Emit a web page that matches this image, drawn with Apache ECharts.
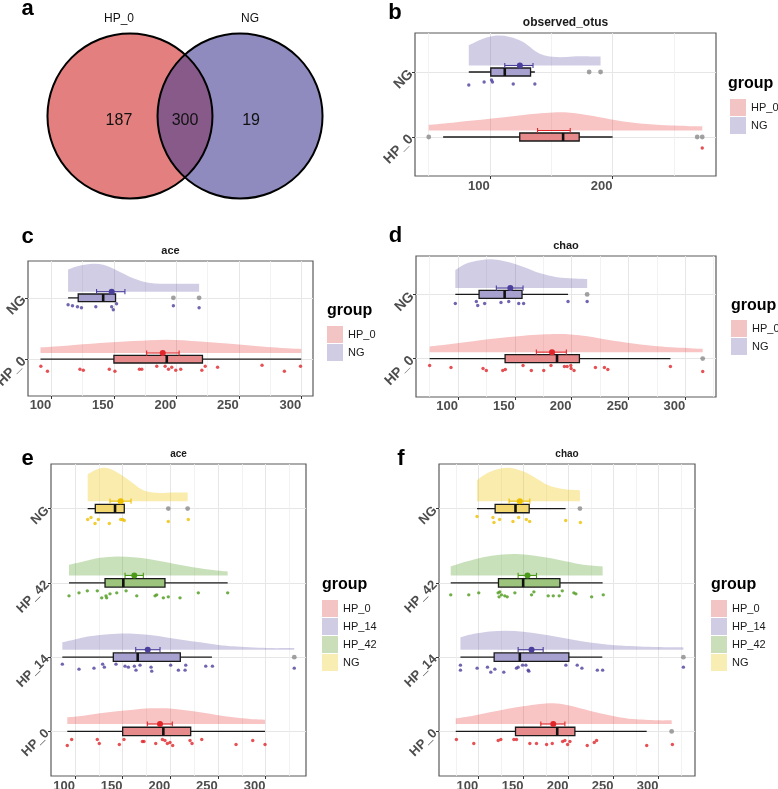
<!DOCTYPE html>
<html><head><meta charset="utf-8">
<script src="https://cdn.jsdelivr.net/npm/echarts@6/dist/echarts.min.js"></script>
<style>html,body{margin:0;padding:0;background:#fff}#c{width:778px;height:789px}</style>
</head><body><div id="c"></div>
<script>
// ---------------- DATA ----------------
// a: Venn
const vennSets = ['HP_0', 'NG'];
const vennCounts = [187, 300, 19]; // HP_0 only, shared, NG only

// b: observed_otus
const bCats = ['HP_0', 'NG'];
const bTicks = [100, 200];
const bMinor = [50, 150, 250];
const bDensity_HP0 = [[50.3,0.087],[72.9,0.128],[100,0.18],[127.2,0.24],[154.3,0.28],[167.9,0.27],[181.5,0.23],[208.7,0.14],[235.9,0.087],[263,0.067],[273,0.067]];
const bDensity_NG = [[82.9,0.31],[94.5,0.41],[105.4,0.46],[116.3,0.44],[127.2,0.36],[140.7,0.18],[154.3,0.13],[167.9,0.14],[181.5,0.14],[190.2,0.14]];
const bBox_HP0 = [62, 124.4, 159.7, 172.8, 200];
const bBox_NG = [82.9, 100.8, 112.2, 133.2, 136.7];
const bMean_HP0 = [null, 138.9, 165.5];
const bMean_NG = [124.5, 112.2, 135.2];
const bOut_HP0 = [50.3, 268.9, 273];
const bOut_NG = [180.9, 190.2];
const bPts_HP0 = [[273,11]];
const bPts_NG = [[82.9,13],[95.4,10],[101.4,8],[102.2,10],[119.1,12],[136.7,12]];

// c: ace
const cCats = ['HP_0', 'NG'];
const cTicks = [100, 150, 200, 250, 300];
const cMinor = [125, 175, 225, 275];
const cDensity_HP0 = [[91.2,0.093],[112,0.12],[138.8,0.163],[165.5,0.196],[192.3,0.218],[219,0.19],[245.7,0.147],[272.5,0.098],[300,0.065]];
const cDensity_NG = [[113.3,0.36],[120,0.41],[130.7,0.45],[141.4,0.44],[152.1,0.35],[165.5,0.22],[178.9,0.14],[192.3,0.13],[205.7,0.13],[218.2,0.13]];
const cBox_HP0 = [91.2, 150, 192.3, 220.9, 300];
const cBox_NG = [113.3, 121.4, 141.4, 151.3, 151.3];
const cMean_HP0 = [189.1, 176.2, 202.2];
const cMean_NG = [148.2, 136.1, 158.8];
const cOut_HP0 = [];
const cOut_NG = [197.6, 218.2];
const cPts_HP0 = [[91.5,7],[96.8,12],[122.8,10],[125.5,11],[146.3,10],[150.8,12],[170.4,10],[172.3,10],[184.3,7],[191,7],[193.7,10],[196.3,8],[199.5,11],[203.5,10],[220.4,11],[223.1,7],[233,8],[268.6,6],[286.5,12],[299.4,7]];
const cPts_NG = [[113.3,7],[116.8,8],[120.8,9],[124,10],[135.5,9],[148.2,9],[149.5,12],[152.1,6],[197.6,8],[218.2,10]];

// d: chao
const dCats = ['HP_0', 'NG'];
const dTicks = [100, 150, 200, 250, 300];
const dMinor = [75, 125, 175, 225, 275, 325];
const dDensity_HP0 = [[75,0.087],[99.1,0.138],[128.4,0.205],[157.7,0.257],[187.1,0.282],[201.8,0.272],[216.5,0.24],[245.8,0.154],[275.2,0.092],[304.5,0.062],[315.3,0.051]];
const dDensity_NG = [[97.6,0.28],[107.9,0.385],[119.6,0.435],[131.3,0.446],[143.1,0.41],[157.7,0.33],[172.4,0.23],[187.1,0.17],[201.8,0.15],[213.6,0.143]];
const dBox_HP0 = [75, 141.4, 187.1, 206.8, 286.9];
const dBox_NG = [97.6, 118.5, 141, 156.3, 196.8];
const dMean_HP0 = [182.7, 168.9, 195.3];
const dMean_NG = [146, 133.7, 157.2];
const dOut_HP0 = [315.3];
const dOut_NG = [213.6];
const dPts_HP0 = [[75,7],[93.8,9],[122,10],[124.9,12],[139.3,12],[141.6,11],[157.2,7],[164.5,12],[175.4,12],[181.8,7],[193.6,8],[196,8],[199.2,7],[199.5,10],[202.1,12],[220.9,9],[228.8,9],[231.8,11],[286.9,8],[315.3,13]];
const dPts_NG = [[97.6,9],[116.1,7],[117.3,11],[123.4,9],[137.8,8],[144.6,7],[153.4,9],[157.7,9],[196.8,7],[213.6,7]];

// e: ace (4 groups)
const eCats = ['HP_0', 'HP_14', 'HP_42', 'NG'];
const eTicks = [100, 150, 200, 250, 300];
const eMinor = [125, 175, 225, 275, 325];
const eDensity_HP0 = [[91.9,0.09],[108.7,0.112],[126.2,0.144],[143.8,0.171],[161.2,0.192],[178.7,0.211],[196.2,0.211],[213.6,0.188],[231.2,0.157],[248.7,0.121],[266.1,0.09],[283.6,0.067],[299.4,0.058]];
const eDensity_HP14 = [[86.7,0.099],[108.7,0.166],[126.2,0.197],[143.8,0.215],[161.2,0.215],[178.7,0.197],[196.2,0.166],[213.6,0.13],[231.2,0.099],[248.7,0.067],[266.1,0.045],[301.1,0.022],[330.1,0.022]];
const eDensity_HP42 = [[93.7,0.144],[108.7,0.188],[126.2,0.238],[143.8,0.256],[161.2,0.246],[178.7,0.219],[196.2,0.179],[213.6,0.135],[231.2,0.098],[248.7,0.067],[260.2,0.054]];
const eDensity_NG = [[113.3,0.363],[122.7,0.426],[131.5,0.448],[140.2,0.417],[150.7,0.336],[161.2,0.238],[171.7,0.148],[185.7,0.112],[203.1,0.117],[218.2,0.117]];
const eBox_HP0 = [91.9, 150, 192.7, 221.4, 299.4];
const eBox_HP14 = [86.7, 140.2, 165.8, 210.5, 243.7];
const eBox_HP42 = [93.7, 131.5, 150.7, 194.4, 260.2];
const eBox_NG = [113.3, 121.3, 142, 151.7, 151.7];
const eMean_HP0 = [189.2, 175.9, 202.1];
const eMean_HP14 = [176.3, 163.7, 189.2];
const eMean_HP42 = [162.2, 152.5, 171.7];
const eMean_NG = [147.9, 136.7, 158.8];
const eOut_HP0 = [];
const eOut_HP14 = [330.1];
const eOut_HP42 = [];
const eOut_NG = [197.9, 218.2];
const ePts_HP0 = [[91.9,14],[96.5,8],[123.4,8],[125.5,12],[146.5,13],[151.4,8],[170.7,10],[172.4,10],[184.7,12],[191.7,8],[194.4,9],[196.9,12],[199.7,11],[202.5,14],[220.7,9],[222.8,12],[233,8],[269,13],[286.5,9],[299.4,13]];
const ePts_HP14 = [[86.7,7],[104.2,12],[119.9,11],[129,7],[130.8,10],[143,7],[152.5,9],[156,10],[162.3,9],[164,13],[168.2,8],[179.8,10],[180.5,14],[200.4,8],[208.5,13],[215.5,13],[216.2,8],[237.2,9],[244.2,9],[330.1,11]];
const ePts_HP42 = [[93.7,13],[104.2,10],[112.9,8],[123.4,8],[128,15],[132.5,13],[133.2,15],[136.7,11],[143.8,10],[153.6,8],[164.8,13],[184,13],[185.7,12],[192.7,15],[197.9,14],[210.2,15],[229.4,10],[260.2,10]];
const ePts_NG = [[113.3,11],[116.8,9],[121,15],[124.5,11],[136,15],[147.9,11],[150,11],[151.7,12],[197.9,13],[218.9,11]];

// f: chao (4 groups)
const fCats = ['HP_0', 'HP_14', 'HP_42', 'NG'];
const fTicks = [100, 150, 200, 250, 300];
const fMinor = [75, 125, 175, 225, 275, 325];
const fDensity_HP0 = [[74.8,0.076],[94,0.112],[112.6,0.157],[131.1,0.202],[149.6,0.238],[168.1,0.269],[183,0.278],[197.8,0.256],[216.3,0.202],[234.8,0.144],[253.3,0.099],[271.9,0.067],[297.8,0.05],[314.4,0.05]];
const fDensity_HP14 = [[80,0.166],[94,0.211],[112.6,0.246],[131.1,0.256],[149.6,0.242],[168.1,0.211],[186.7,0.175],[205.1,0.135],[223.7,0.098],[242.2,0.071],[260.7,0.054],[297.8,0.036],[327.4,0.031]];
const fDensity_HP42 = [[69.2,0.121],[86.7,0.188],[105.2,0.246],[123.7,0.279],[142.2,0.287],[160.7,0.269],[179.2,0.233],[197.8,0.188],[216.3,0.144],[237.8,0.121]];
const fDensity_NG = [[98.4,0.283],[108.9,0.373],[120,0.426],[131.1,0.448],[142.2,0.431],[153.3,0.381],[164.4,0.305],[175.6,0.225],[186.7,0.179],[197.8,0.157],[212.6,0.148]];
const fBox_HP0 = [74.8, 141.1, 187.4, 207, 286.7];
const fBox_HP14 = [80, 117.4, 145.9, 200.3, 237.4];
const fBox_HP42 = [69.2, 122.2, 149.6, 190.4, 237.8];
const fBox_NG = [98.4, 118.5, 141.1, 156.3, 196.7];
const fMean_HP0 = [183, 169.2, 195.9];
const fMean_HP14 = [158.9, 144, 171.8];
const fMean_HP42 = [154.4, 144, 164.4];
const fMean_NG = [145.9, 134, 157];
const fOut_HP0 = [314.4];
const fOut_HP14 = [327.4];
const fOut_HP42 = [];
const fOut_NG = [212.6];
const fPts_HP0 = [[75.5,8],[94.8,12],[121.9,9],[124.8,8],[139.3,8],[142.2,8],[157,12],[164.4,12],[175.6,13],[181.9,12],[193.4,10],[195.9,9],[198.9,13],[201.5,10],[220.7,14],[228.5,11],[231.1,9],[286.7,14],[315.2,13]];
const fPts_HP14 = [[80,8],[80,13],[98.5,11],[110,10],[113.7,15],[118.2,12],[128.1,15],[142.2,11],[144,10],[148.9,8],[152.6,8],[155.2,13],[155.9,14],[197,8],[209.6,8],[214.8,11],[231.9,13],[237.8,13],[327.4,10]];
const fPts_HP42 = [[69.2,12],[89.2,12],[100.3,10],[121.8,10],[123.7,9],[125.5,12],[122.9,14],[129.2,13],[131.9,14],[140.4,10],[158.9,12],[161.5,9],[177.4,13],[183,13],[189.6,13],[193,8],[205.9,10],[208.1,11],[225.6,14],[238.5,12]];
const fPts_NG = [[98.4,8],[116.1,9],[117.2,14],[123.5,11],[138.3,13],[144.6,9],[153.1,11],[156.8,13],[196.8,12],[213.1,14]];

// ---------------- STYLE ----------------
const FONT = '"Liberation Sans", Arial, Helvetica, sans-serif';
const PAL = {
  red:    {pt:'#E0262A', cloud:'rgba(228,26,28,0.26)', box:'#E68A8B', key:'#F3C4C4'},
  purple: {pt:'#4B3F9C', cloud:'rgba(75,63,156,0.26)', box:'#A6A1CE', key:'#CFCCE3'},
  green:  {pt:'#4C9A1A', cloud:'rgba(76,154,26,0.30)', box:'#9CC47C', key:'#CADFB9'},
  yellow: {pt:'#EDC000', cloud:'rgba(240,196,0,0.32)', box:'#F3D872', key:'#F8EDB2'}
};
const CLOUD_BASE = 0.1;

const grid = [], xAxis = [], yAxis = [], series = [], legend = [], graphic = [];

// ---------------- VENN ----------------
const vennOffset = 0.667;
grid.push({left:20, top:17, width:330, height:198, show:false, outerBoundsMode:'none'});
xAxis.push({type:'value', gridIndex:0, min:-2, max:2, show:false});
yAxis.push({type:'value', gridIndex:0, min:-1.2, max:1.2, show:false});
series.push({
  type:'custom', xAxisIndex:0, yAxisIndex:0, silent:true, data:[[0]],
  renderItem: function (params, api) {
    const c1 = api.coord([-vennOffset, 0]), c2 = api.coord([vennOffset, 0]);
    const r = api.size([1, 0])[0];
    const d = c2[0] - c1[0], mx = (c1[0] + c2[0]) / 2, h = Math.sqrt(r * r - d * d / 4);
    const cy = c1[1];
    const lens = 'M' + mx + ' ' + (cy - h) + ' A' + r + ' ' + r + ' 0 0 0 ' + mx + ' ' + (cy + h) +
                 ' A' + r + ' ' + r + ' 0 0 0 ' + mx + ' ' + (cy - h) + ' Z';
    const numFont = '16px ' + FONT, setFont = '12px ' + FONT;
    return {type:'group', children:[
      {type:'circle', shape:{cx:c1[0], cy:cy, r:r}, style:{fill:'#E3807F'}},
      {type:'circle', shape:{cx:c2[0], cy:cy, r:r}, style:{fill:'#8F8BBE'}},
      {type:'path', shape:{pathData:lens}, style:{fill:'#875A8A'}},
      {type:'circle', shape:{cx:c1[0], cy:cy, r:r}, style:{fill:null, stroke:'#000', lineWidth:2}},
      {type:'circle', shape:{cx:c2[0], cy:cy, r:r}, style:{fill:null, stroke:'#000', lineWidth:2}},
      {type:'text', style:{x:c1[0] - 11, y:cy + 5, text:String(vennCounts[0]), font:numFont, fill:'#111', align:'center', verticalAlign:'middle'}},
      {type:'text', style:{x:mx, y:cy + 5, text:String(vennCounts[1]), font:numFont, fill:'#111', align:'center', verticalAlign:'middle'}},
      {type:'text', style:{x:c2[0] + 11, y:cy + 5, text:String(vennCounts[2]), font:numFont, fill:'#111', align:'center', verticalAlign:'middle'}},
      {type:'text', style:{x:c1[0] - 11, y:cy - r - 15, text:vennSets[0], font:setFont, fill:'#111', align:'center', verticalAlign:'middle'}},
      {type:'text', style:{x:c2[0] + 10, y:cy - r - 15, text:vennSets[1], font:setFont, fill:'#111', align:'center', verticalAlign:'middle'}}
    ]};
  }
});

// ---------------- RAINCLOUD PANELS ----------------
function cloudRender(pal, base) {
  return function (params, api) {
    if (params.dataIndex !== 0) return null;
    const n = params.dataInsideLength;
    const pts = [];
    for (let i = 0; i < n; i++) pts.push(api.coord([api.value(0, i), api.value(1, i)]));
    const by = api.coord([api.value(0, 0), base])[1];
    let d = 'M' + pts[0][0] + ' ' + by + ' L' + pts[0][0] + ' ' + pts[0][1];
    for (let i = 0; i < n - 1; i++) {
      const p0 = pts[Math.max(i - 1, 0)], p1 = pts[i], p2 = pts[i + 1], p3 = pts[Math.min(i + 2, n - 1)];
      const c1x = p1[0] + (p2[0] - p0[0]) / 6, c1y = Math.min(by, p1[1] + (p2[1] - p0[1]) / 6);
      const c2x = p2[0] - (p3[0] - p1[0]) / 6, c2y = Math.min(by, p2[1] - (p3[1] - p1[1]) / 6);
      d += ' C' + c1x + ' ' + c1y + ' ' + c2x + ' ' + c2y + ' ' + p2[0] + ' ' + p2[1];
    }
    d += ' L' + pts[n - 1][0] + ' ' + by + ' Z';
    return {type:'path', shape:{pathData:d}, style:{fill:pal.cloud}};
  };
}
function boxRender(pal, hh) {
  return function (params, api) {
    const y = api.value(0);
    const lo = api.coord([api.value(1), y]), q1 = api.coord([api.value(2), y]),
          md = api.coord([api.value(3), y]), q3 = api.coord([api.value(4), y]),
          hi = api.coord([api.value(5), y]);
    return {type:'group', children:[
      {type:'line', shape:{x1:lo[0], y1:lo[1], x2:hi[0], y2:hi[1]}, style:{stroke:'#1a1a1a', lineWidth:1.3}},
      {type:'rect', shape:{x:q1[0], y:q1[1] - hh, width:q3[0] - q1[0], height:2 * hh}, style:{fill:pal.box, stroke:'#1a1a1a', lineWidth:1.3}},
      {type:'line', shape:{x1:md[0], y1:md[1] - hh, x2:md[0], y2:md[1] + hh}, style:{stroke:'#111', lineWidth:2.6}}
    ]};
  };
}
function meanRender(pal) {
  return function (params, api) {
    const y = api.value(0) + CLOUD_BASE;
    const m = api.value(1);
    const a = api.coord([api.value(2), y]), b = api.coord([api.value(3), y]);
    const ch = [
      {type:'line', shape:{x1:a[0], y1:a[1], x2:b[0], y2:b[1]}, style:{stroke:pal.pt, lineWidth:1.1}},
      {type:'line', shape:{x1:a[0], y1:a[1] - 2.6, x2:a[0], y2:a[1] + 2.6}, style:{stroke:pal.pt, lineWidth:1.1}},
      {type:'line', shape:{x1:b[0], y1:b[1] - 2.6, x2:b[0], y2:b[1] + 2.6}, style:{stroke:pal.pt, lineWidth:1.1}}
    ];
    if (m != null && !isNaN(m)) {
      const c = api.coord([m, y]);
      ch.push({type:'circle', shape:{cx:c[0], cy:c[1], r:3}, style:{fill:pal.pt}});
    }
    return {type:'group', children:ch};
  };
}

function buildPanel(p) {
  const gi = grid.length;
  grid.push(Object.assign({show:true, borderColor:'#5a5a5a', borderWidth:1.2, outerBoundsMode:'none', containLabel:false}, p.grid));
  const xi = xAxis.length;
  xAxis.push({type:'value', gridIndex:gi, min:p.xMin, max:p.xMax, position:'bottom',
    axisLine:{show:false},
    axisTick:{show:true, length:3, customValues:p.ticks, lineStyle:{color:'#333', width:1}},
    axisLabel:{customValues:p.ticks, fontSize:13, fontWeight:'bold', color:'#4d4d4d', fontFamily:FONT, margin:p.xMargin, padding:[0, 22, 0, 0]},
    splitLine:{show:true, lineStyle:{color:'#e6e6e6', width:1}}});
  xAxis.push({type:'value', gridIndex:gi, min:p.xMin, max:p.xMax, position:'top',
    axisLine:{show:false}, axisTick:{show:false, customValues:p.minor}, axisLabel:{show:false},
    splitLine:{show:true, lineStyle:{color:'#efefef', width:0.8}}});
  const yi = yAxis.length;
  const catVals = p.cats.map((c, i) => i + 1);
  yAxis.push({type:'value', gridIndex:gi, min:0.4, max:p.cats.length + 0.6,
    axisLine:{show:false},
    axisTick:{show:true, length:3, customValues:catVals, lineStyle:{color:'#333'}},
    axisLabel:{customValues:catVals, formatter:v => p.cats[Math.round(v) - 1], rotate:45,
      fontSize:p.yFont, fontWeight:'bold', color:'#4d4d4d', fontFamily:FONT, margin:4},
    splitLine:{show:true, lineStyle:{color:'#e6e6e6', width:1}}});

  p.groups.forEach((g, k) => {
    const cat = k + 1, pal = PAL[g.color];
    series.push({type:'custom', name:g.name, xAxisIndex:xi, yAxisIndex:yi, silent:true, z:2,
      data:g.density.map(d => [d[0], cat + CLOUD_BASE + d[1]]), encode:{x:0, y:1},
      itemStyle:{color:pal.key}, renderItem:cloudRender(pal, cat + CLOUD_BASE)});
    series.push({type:'custom', xAxisIndex:xi, yAxisIndex:yi, silent:true, z:3,
      data:[[cat].concat(g.box)], encode:{x:[1, 2, 3, 4, 5], y:0}, renderItem:boxRender(pal, p.boxH)});
    series.push({type:'custom', xAxisIndex:xi, yAxisIndex:yi, silent:true, z:4,
      data:[[cat, g.mean[0] == null ? NaN : g.mean[0], g.mean[1], g.mean[2]]], encode:{x:[2, 3], y:0},
      renderItem:meanRender(pal)});
    series.push({type:'scatter', xAxisIndex:xi, yAxisIndex:yi, silent:true, z:4,
      data:g.out.map(v => [v, cat]), symbolSize:4.8, itemStyle:{color:'#8a8a8a'}});
    series.push({type:'scatter', xAxisIndex:xi, yAxisIndex:yi, silent:true, z:4,
      data:g.pts.map(q => ({value:[q[0], cat], symbolOffset:[0, q[1]]})), symbolSize:3.4, itemStyle:{color:pal.pt}});
  });

  legend.push({orient:'vertical', left:p.legend[0], top:p.legend[1], itemWidth:16, itemHeight:17, itemGap:1,
    padding:0, icon:'rect', selectedMode:false,
    data:p.groups.map(g => ({name:g.name, itemStyle:{color:PAL[g.color].key, borderWidth:0}})),
    textStyle:{fontSize:11, color:'#1a1a1a', fontFamily:FONT}});
}

buildPanel({grid:{left:415, top:33, width:301, height:143}, xMin:39.1, xMax:284.2, ticks:bTicks, minor:bMinor,
  cats:bCats, yFont:14, xMargin:4, boxH:4, legend:[730, 99],
  groups:[
    {name:'HP_0', color:'red', density:bDensity_HP0, box:bBox_HP0, mean:bMean_HP0, out:bOut_HP0, pts:bPts_HP0},
    {name:'NG', color:'purple', density:bDensity_NG, box:bBox_NG, mean:bMean_NG, out:bOut_NG, pts:bPts_NG}]});
buildPanel({grid:{left:28, top:261, width:285, height:135}, xMin:81.2, xMax:309.4, ticks:cTicks, minor:cMinor,
  cats:cCats, yFont:14, xMargin:3, boxH:3.8, legend:[327, 326],
  groups:[
    {name:'HP_0', color:'red', density:cDensity_HP0, box:cBox_HP0, mean:cMean_HP0, out:cOut_HP0, pts:cPts_HP0},
    {name:'NG', color:'purple', density:cDensity_NG, box:cBox_NG, mean:cMean_NG, out:cOut_NG, pts:cPts_NG}]});
buildPanel({grid:{left:416, top:256, width:300, height:141}, xMin:63, xMax:327, ticks:dTicks, minor:dMinor,
  cats:dCats, yFont:14, xMargin:3, boxH:4, legend:[731, 320],
  groups:[
    {name:'HP_0', color:'red', density:dDensity_HP0, box:dBox_HP0, mean:dMean_HP0, out:dOut_HP0, pts:dPts_HP0},
    {name:'NG', color:'purple', density:dDensity_NG, box:dBox_NG, mean:dMean_NG, out:dOut_NG, pts:dPts_NG}]});
buildPanel({grid:{left:51, top:464, width:255, height:312}, xMin:74.8, xMax:342.4, ticks:eTicks, minor:eMinor,
  cats:eCats, yFont:13, xMargin:4, boxH:4.2, legend:[322, 600],
  groups:[
    {name:'HP_0', color:'red', density:eDensity_HP0, box:eBox_HP0, mean:eMean_HP0, out:eOut_HP0, pts:ePts_HP0},
    {name:'HP_14', color:'purple', density:eDensity_HP14, box:eBox_HP14, mean:eMean_HP14, out:eOut_HP14, pts:ePts_HP14},
    {name:'HP_42', color:'green', density:eDensity_HP42, box:eBox_HP42, mean:eMean_HP42, out:eOut_HP42, pts:ePts_HP42},
    {name:'NG', color:'yellow', density:eDensity_NG, box:eBox_NG, mean:eMean_NG, out:eOut_NG, pts:ePts_NG}]});
buildPanel({grid:{left:439, top:464, width:256, height:312}, xMin:56.2, xMax:340.3, ticks:fTicks, minor:fMinor,
  cats:fCats, yFont:13, xMargin:4, boxH:4.2, legend:[711, 600],
  groups:[
    {name:'HP_0', color:'red', density:fDensity_HP0, box:fBox_HP0, mean:fMean_HP0, out:fOut_HP0, pts:fPts_HP0},
    {name:'HP_14', color:'purple', density:fDensity_HP14, box:fBox_HP14, mean:fMean_HP14, out:fOut_HP14, pts:fPts_HP14},
    {name:'HP_42', color:'green', density:fDensity_HP42, box:fBox_HP42, mean:fMean_HP42, out:fOut_HP42, pts:fPts_HP42},
    {name:'NG', color:'yellow', density:fDensity_NG, box:fBox_NG, mean:fMean_NG, out:fOut_NG, pts:fPts_NG}]});

// ---------------- TEXTS ----------------
function txt(x, y, text, size, weight, align, color) {
  graphic.push({type:'text', x:x, y:y, silent:true, z:10,
    style:{text:text, fill:color || '#000', font:(weight || 'normal') + ' ' + size + 'px ' + FONT,
      align:align || 'center', verticalAlign:'middle'}});
}
txt(27.5, 8.5, 'a', 22, 'bold');
txt(395, 13, 'b', 22, 'bold');
txt(27.5, 236.5, 'c', 22, 'bold');
txt(395.5, 236, 'd', 22, 'bold');
txt(27.5, 459, 'e', 22, 'bold');
txt(401, 459, 'f', 22, 'bold');
txt(565.5, 23, 'observed_otus', 12, 'bold', 'center', '#1a1a1a');
txt(170.5, 251, 'ace', 11, 'bold', 'center', '#1a1a1a');
txt(566, 245.5, 'chao', 11, 'bold', 'center', '#1a1a1a');
txt(178.5, 454.5, 'ace', 10, 'bold', 'center', '#1a1a1a');
txt(567, 454.5, 'chao', 10, 'bold', 'center', '#1a1a1a');
txt(728, 84, 'group', 16, 'bold', 'left');
txt(327, 311, 'group', 16, 'bold', 'left');
txt(731, 305.5, 'group', 16, 'bold', 'left');
txt(322, 584.3, 'group', 16, 'bold', 'left');
txt(711, 584.3, 'group', 16, 'bold', 'left');

const chart = echarts.init(document.getElementById('c'), null, {width:778, height:789});
chart.setOption({
  animation:false,
  backgroundColor:'#fff',
  textStyle:{fontFamily:FONT},
  grid:grid, xAxis:xAxis, yAxis:yAxis, series:series, legend:legend, graphic:graphic
});
</script>
</body></html>
